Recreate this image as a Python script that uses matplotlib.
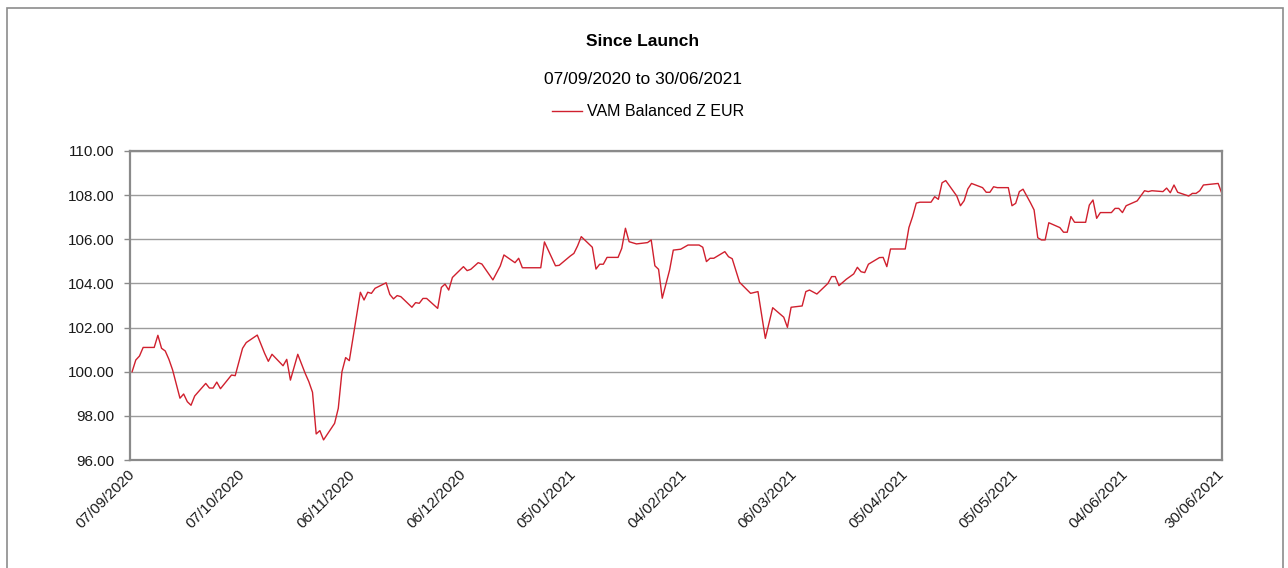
import matplotlib
matplotlib.use("Agg")
import matplotlib.pyplot as plt
from matplotlib.patches import Rectangle
import pandas as pd

plt.rcParams['font.family'] = ['Liberation Sans', 'DejaVu Sans']

title = "Since Launch"
subtitle = "07/09/2020 to 30/06/2021"
series_name = "VAM Balanced Z EUR"

dates = [
    "2020-09-07", "2020-09-08", "2020-09-09", "2020-09-10", "2020-09-13", "2020-09-14",
    "2020-09-15", "2020-09-16", "2020-09-17", "2020-09-18", "2020-09-20", "2020-09-21",
    "2020-09-22", "2020-09-23", "2020-09-24", "2020-09-27", "2020-09-28", "2020-09-29",
    "2020-09-30", "2020-10-01", "2020-10-04", "2020-10-05", "2020-10-07", "2020-10-08",
    "2020-10-11", "2020-10-13", "2020-10-14", "2020-10-15", "2020-10-18", "2020-10-19",
    "2020-10-20", "2020-10-22", "2020-10-24", "2020-10-25", "2020-10-26", "2020-10-27",
    "2020-10-28", "2020-10-29", "2020-11-01", "2020-11-02", "2020-11-03", "2020-11-04",
    "2020-11-05", "2020-11-08", "2020-11-09", "2020-11-10", "2020-11-11", "2020-11-12",
    "2020-11-15", "2020-11-16", "2020-11-17", "2020-11-18", "2020-11-19", "2020-11-22",
    "2020-11-23", "2020-11-24", "2020-11-25", "2020-11-26", "2020-11-29", "2020-11-30",
    "2020-12-01", "2020-12-02", "2020-12-03", "2020-12-06", "2020-12-07", "2020-12-08",
    "2020-12-10", "2020-12-11", "2020-12-14", "2020-12-16", "2020-12-17", "2020-12-20",
    "2020-12-21", "2020-12-22", "2020-12-27", "2020-12-28", "2020-12-31", "2021-01-01",
    "2021-01-04", "2021-01-05", "2021-01-06", "2021-01-07", "2021-01-10", "2021-01-11",
    "2021-01-12", "2021-01-13", "2021-01-14", "2021-01-17", "2021-01-18", "2021-01-19",
    "2021-01-20", "2021-01-22", "2021-01-25", "2021-01-26", "2021-01-27", "2021-01-28",
    "2021-01-29", "2021-01-31", "2021-02-01", "2021-02-03", "2021-02-05", "2021-02-08",
    "2021-02-09", "2021-02-10", "2021-02-11", "2021-02-12", "2021-02-15", "2021-02-16",
    "2021-02-17", "2021-02-19", "2021-02-22", "2021-02-24", "2021-02-26", "2021-02-28",
    "2021-03-03", "2021-03-04", "2021-03-05", "2021-03-08", "2021-03-09", "2021-03-10",
    "2021-03-12", "2021-03-15", "2021-03-16", "2021-03-17", "2021-03-18", "2021-03-20",
    "2021-03-22", "2021-03-23", "2021-03-24", "2021-03-25", "2021-03-26", "2021-03-29",
    "2021-03-30", "2021-03-31", "2021-04-01", "2021-04-05", "2021-04-06", "2021-04-07",
    "2021-04-08", "2021-04-09", "2021-04-12", "2021-04-13", "2021-04-14", "2021-04-15",
    "2021-04-16", "2021-04-19", "2021-04-20", "2021-04-21", "2021-04-22", "2021-04-23",
    "2021-04-26", "2021-04-27", "2021-04-28", "2021-04-29", "2021-04-30", "2021-05-03",
    "2021-05-04", "2021-05-05", "2021-05-06", "2021-05-07", "2021-05-09", "2021-05-10",
    "2021-05-11", "2021-05-12", "2021-05-13", "2021-05-14", "2021-05-17", "2021-05-18",
    "2021-05-19", "2021-05-20", "2021-05-21", "2021-05-24", "2021-05-25", "2021-05-26",
    "2021-05-27", "2021-05-28", "2021-05-31", "2021-06-01", "2021-06-02", "2021-06-03",
    "2021-06-04", "2021-06-07", "2021-06-09", "2021-06-10", "2021-06-11", "2021-06-14",
    "2021-06-15", "2021-06-16", "2021-06-17", "2021-06-18", "2021-06-21", "2021-06-22",
    "2021-06-23", "2021-06-24", "2021-06-25", "2021-06-29", "2021-06-30",
]

values = [
    100.00, 100.53, 100.71, 101.10, 101.10, 101.65,
    101.06, 100.94, 100.56, 100.08, 98.80, 98.99,
    98.64, 98.48, 98.90, 99.47, 99.26, 99.26,
    99.53, 99.23, 99.85, 99.82, 101.06, 101.32,
    101.66, 100.83, 100.47, 100.79, 100.27, 100.56,
    99.62, 100.79, 99.93, 99.55, 99.07, 97.18,
    97.33, 96.91, 97.66, 98.34, 100.00, 100.64,
    100.50, 103.60, 103.25, 103.60, 103.55, 103.78,
    104.03, 103.50, 103.30, 103.45, 103.40, 102.92,
    103.13, 103.10, 103.32, 103.32, 102.87, 103.82,
    103.97, 103.70, 104.27, 104.76, 104.58, 104.64,
    104.94, 104.88, 104.16, 104.79, 105.29, 104.94,
    105.14, 104.71, 104.71, 105.88, 104.80, 104.82,
    105.24, 105.36, 105.70, 106.12, 105.64, 104.65,
    104.87, 104.87, 105.18, 105.18, 105.59, 106.50,
    105.89, 105.79, 105.85, 105.97, 104.80, 104.64,
    103.33, 104.61, 105.51, 105.55, 105.74, 105.74,
    105.64, 104.99, 105.14, 105.14, 105.44, 105.21,
    105.12, 104.05, 103.55, 103.63, 101.51, 102.90,
    102.47, 102.01, 102.92, 102.98, 103.63, 103.70,
    103.52, 104.00, 104.31, 104.31, 103.90, 104.19,
    104.43, 104.73, 104.53, 104.49, 104.87, 105.17,
    105.18, 104.76, 105.56, 105.56, 106.53, 107.03,
    107.64, 107.68, 107.68, 107.93, 107.81, 108.56,
    108.66, 107.96, 107.52, 107.75, 108.28, 108.53,
    108.34, 108.13, 108.13, 108.38, 108.34, 108.34,
    107.52, 107.63, 108.16, 108.27, 107.66, 107.33,
    106.07, 105.97, 105.97, 106.75, 106.53, 106.32,
    106.32, 107.03, 106.77, 106.77, 107.55, 107.78,
    106.95, 107.21, 107.21, 107.40, 107.40, 107.21,
    107.52, 107.74, 108.20, 108.16, 108.20, 108.16,
    108.32, 108.11, 108.46, 108.13, 107.96, 108.08,
    108.08, 108.20, 108.46, 108.53, 108.08,
]

tick_dates = ["2020-09-07", "2020-10-07", "2020-11-06", "2020-12-06", "2021-01-05",
              "2021-02-04", "2021-03-06", "2021-04-05", "2021-05-05", "2021-06-04",
              "2021-06-30"]
tick_labels = ["07/09/2020", "07/10/2020", "06/11/2020", "06/12/2020", "05/01/2021",
               "04/02/2021", "06/03/2021", "05/04/2021", "05/05/2021", "04/06/2021",
               "30/06/2021"]
y_ticks = [96, 98, 100, 102, 104, 106, 108, 110]

W, H = 1288, 568
fig = plt.figure(figsize=(W / 100, H / 100), dpi=100)
fig.patch.set_facecolor("white")

# outer frame
fig.add_artist(Rectangle((7 / W, -0.2), (1283 - 7) / W, 1.2 - 8 / H,
                         transform=fig.transFigure, fill=False,
                         edgecolor="#8c8c8c", linewidth=1.2))

ax = fig.add_axes([129.5 / W, 1 - 460 / H, (1222 - 129.5) / W, (460 - 151) / H])

x = pd.to_datetime(dates)
line, = ax.plot(x, values, color="#d0202e", linewidth=1.0, label=series_name)

ax.set_ylim(96, 110)
ax.set_yticks(y_ticks)
ax.set_yticklabels([f"{v:.2f}" for v in y_ticks])
start = pd.Timestamp(dates[0])
end = pd.Timestamp(dates[-1])
ax.set_xlim(start - pd.Timedelta(hours=17), end + pd.Timedelta(hours=1))
ax.set_xticks(pd.to_datetime(tick_dates))
ax.set_xticklabels(tick_labels, rotation=45, ha="right", va="center",
                   rotation_mode="anchor")

ax.grid(axis="y", color="#9c9c9c", linewidth=1.0)
ax.set_axisbelow(True)
for s in ax.spines.values():
    s.set_color("#8a8a8a")
    s.set_linewidth(1.6)

ax.tick_params(axis="y", length=4, width=1, color="#8a8a8a", pad=7,
               labelsize=11, labelcolor="#1a1a1a")
ax.tick_params(axis="x", length=0, pad=9, labelsize=11, labelcolor="#1a1a1a")

fig.text(643 / W, 1 - 42 / H, title, ha="center", va="center",
         fontsize=12.5, fontweight="bold", color="#000000")
fig.text(643 / W, 1 - 80 / H, subtitle, ha="center", va="center",
         fontsize=12.5, color="#000000")
fig.legend(handles=[line], loc="center", bbox_to_anchor=(648 / W, 1 - 112 / H),
           frameon=False, fontsize=11.5, handlelength=1.9, handletextpad=0.3)

fig.savefig("out.png", dpi=100, facecolor="white")
